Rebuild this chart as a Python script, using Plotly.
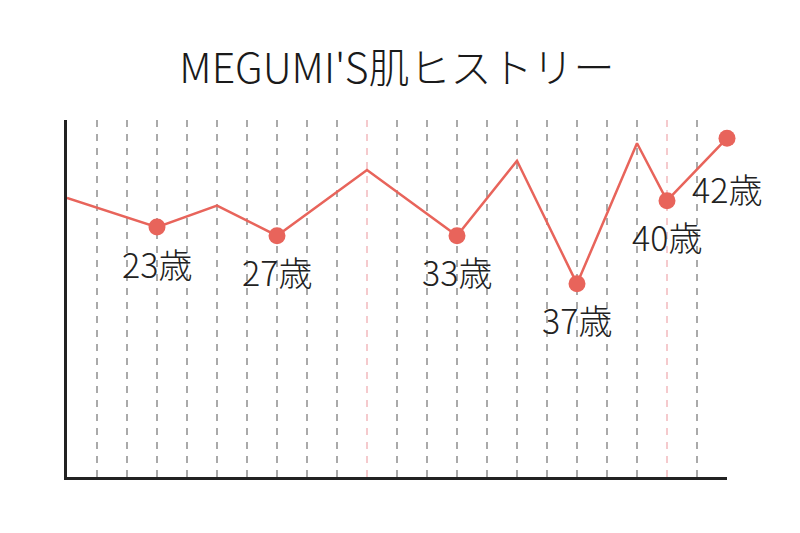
import plotly.graph_objects as go

# ages on the x axis (one dashed line per year)
age_start = 20
age_end = 42
milestone_ages = [30, 40]

# skin condition curve
ages = [20, 23, 25, 27, 30, 33, 35, 37, 39, 40, 42]
skin = [78.2, 70.0, 76.0, 67.6, 86.0, 67.6, 88.6, 54.1, 93.5, 77.4, 94.9]

# highlighted years
marked_ages = [23, 27, 33, 37, 40, 42]
marked_skin = [70.0, 67.6, 67.6, 54.1, 77.4, 94.9]
marked_labels = ['23歳', '27歳', '33歳', '37歳', '40歳', '42歳']

title_text = "MEGUMI'S肌ヒストリー"

line_color = '#E8645B'
label_font = 'Liberation Sans Narrow, Noto Sans CJK JP, sans-serif'

fig = go.Figure()

fig.add_trace(go.Scatter(
    x=ages,
    y=skin,
    mode='lines',
    line=dict(color=line_color, width=2.5),
    hoverinfo='skip',
    cliponaxis=False,
))

fig.add_trace(go.Scatter(
    x=marked_ages,
    y=marked_skin,
    mode='markers',
    marker=dict(color=line_color, size=17),
    cliponaxis=False,
))

# labels sit under each dot, the last one a bit lower
for a, v, t in zip(marked_ages, marked_skin, marked_labels):
    fig.add_annotation(
        x=a, y=v, text=t, showarrow=False,
        yanchor='middle', xanchor='center',
        yshift=-50 if a == age_end else -36,
        font=dict(family=label_font, size=34, color='#222222', weight=300),
    )

# pink lines for the milestone years
for a in milestone_ages:
    fig.add_shape(
        type='line', xref='x', yref='paper',
        x0=a, x1=a, y0=0, y1=1,
        line=dict(color='#F2B9BD', width=1.5, dash='7px,7px'),
        layer='below',
    )

grid_ages = [a for a in range(age_start + 1, age_end + 1) if a not in milestone_ages]

# page body has an 8px margin, so the figure is 16px smaller than the window
fig.update_layout(
    width=784,
    height=517,
    margin=dict(l=59, r=65, t=112, b=48),
    paper_bgcolor='white',
    plot_bgcolor='white',
    showlegend=False,
    title=dict(
        text=title_text,
        x=0.5, xref='paper', xanchor='center',
        y=1 - 61 / 517, yref='container', yanchor='middle',
        font=dict(family='Noto Sans CJK JP, sans-serif', size=41,
                  color='#1a1a1a', weight=300),
    ),
    xaxis=dict(
        range=[age_start, age_end],
        tickvals=grid_ages,
        showticklabels=False,
        ticks='',
        showgrid=True,
        gridcolor='#AAAAAA',
        gridwidth=2,
        griddash='7px,7px',
        zeroline=False,
        showline=True,
        linecolor='#222222',
        linewidth=3,
        fixedrange=True,
    ),
    yaxis=dict(
        range=[0, 100],
        showticklabels=False,
        ticks='',
        showgrid=False,
        zeroline=False,
        showline=True,
        linecolor='#222222',
        linewidth=3,
        fixedrange=True,
    ),
)

fig.write_html('out.html', config={'displayModeBar': False})
